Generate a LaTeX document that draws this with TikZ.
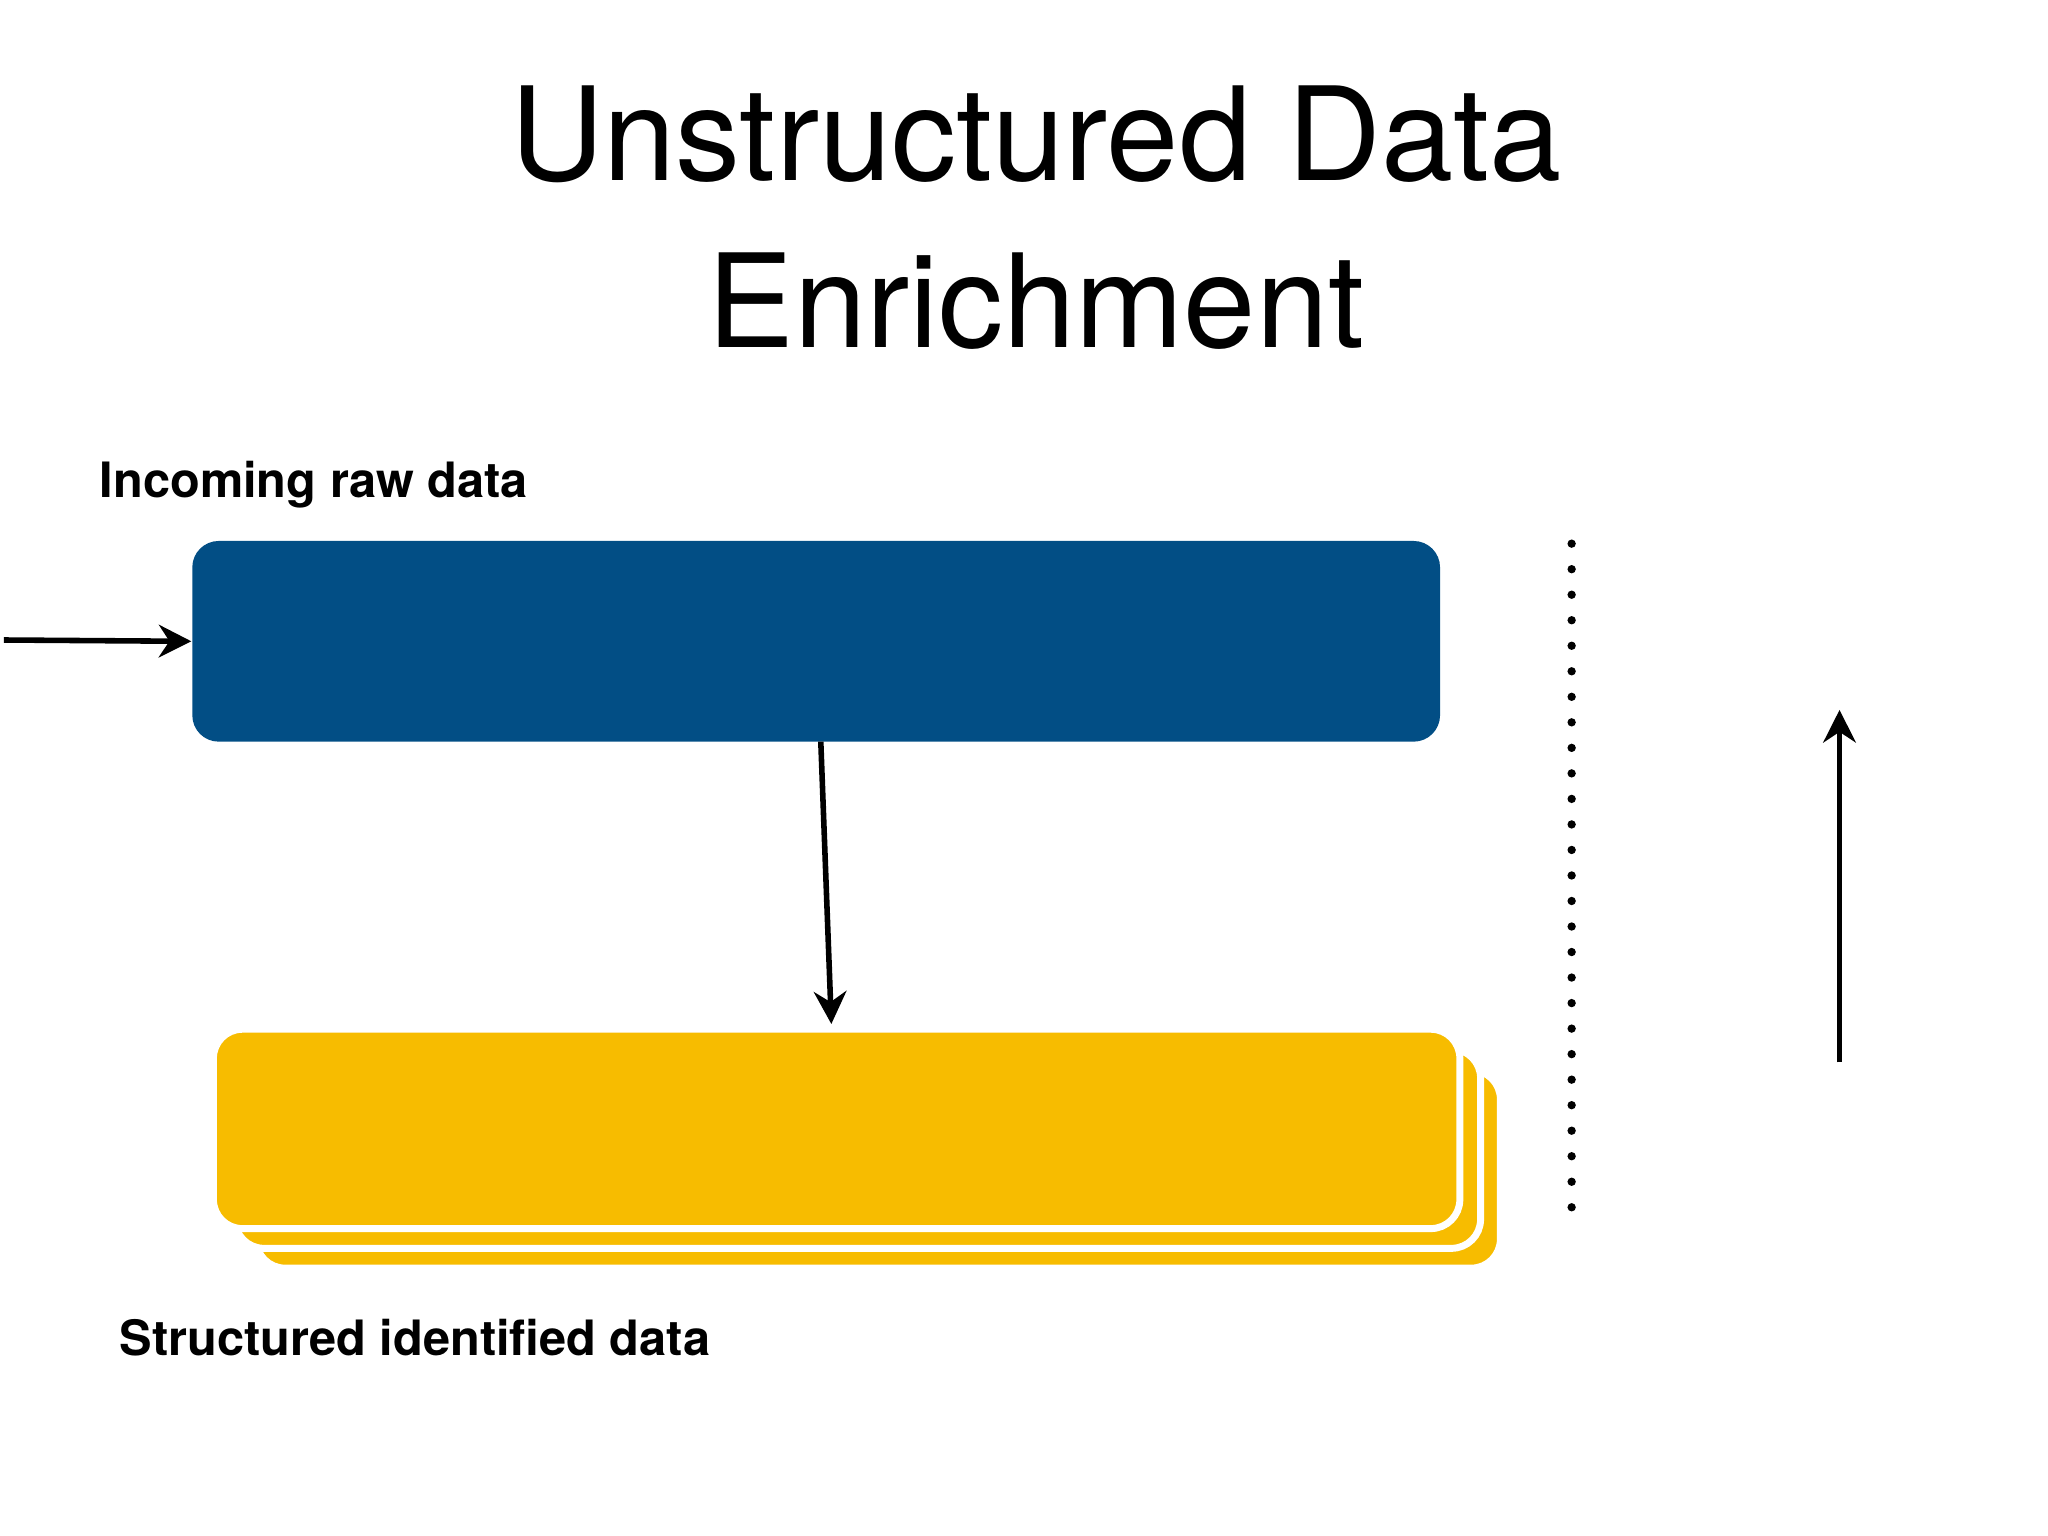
\documentclass[tikz,border=0pt]{standalone}
\usepackage{fontspec}
\setmainfont{TeX Gyre Heros}
\usetikzlibrary{arrows.meta}
\definecolor{navy}{HTML}{024E85}
\definecolor{gold}{HTML}{F7BC00}
\begin{document}
\begin{tikzpicture}[x=0.01cm,y=-0.01cm,
  conn/.style={line width=1.2pt,-{Stealth[length=7pt,width=7pt]}},
  ybox/.style={fill=gold,draw=white,line width=1.5pt,rounded corners=0.22cm},
  lbl/.style={font=\bfseries\fontsize{10.5}{12}\selectfont,anchor=base west,inner sep=0}]
\useasboundingbox (0,0) rectangle (1552,1164);
\node[anchor=base,inner sep=0,font=\fontsize{28}{34}\selectfont] (t1) at (785,137) {Unstructured Data};
\node[anchor=base,inner sep=0,font=\fontsize{28}{34}\selectfont] (t2) at (785,263) {Enrichment};
\node[lbl] (in) at (75,377) {Incoming raw data};
\node[lbl] (out) at (90,1027) {Structured identified data};
\node[fill=navy,rounded corners=0.2cm,minimum width=9.45cm,minimum height=1.52cm,inner sep=0] (blue) at (618.5,486) {};
\draw[ybox] (194,811) rectangle (1137,961);
\draw[ybox] (178,795) rectangle (1122,946);
\node[ybox,minimum width=9.44cm,minimum height=1.51cm,inner sep=0] (yel) at (634,855.5) {};
\coordinate (src) at (3,485);
\draw[conn] (src) -- (blue.west);
\coordinate (b1) at (622,562);
\coordinate (b2) at (630,776);
\draw[conn] (b1) -- (b2);
\coordinate (d1) at (1191,412);
\coordinate (d2) at (1191,925);
\draw[line width=1.8pt,dotted,line cap=round,dash pattern=on 0pt off 5.5pt] (d1) -- (d2);
\coordinate (u1) at (1394,805);
\coordinate (u2) at (1394,538);
\draw[conn] (u1) -- (u2);
\end{tikzpicture}
\end{document}
